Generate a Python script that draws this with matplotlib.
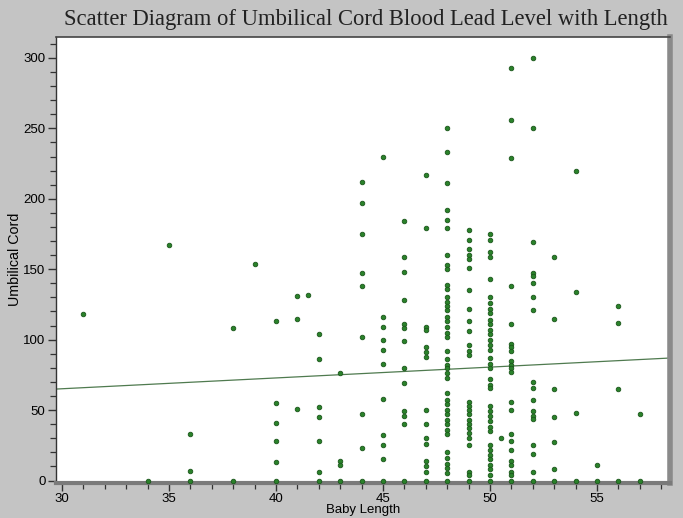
import matplotlib
matplotlib.use("Agg")
import matplotlib.pyplot as plt
from matplotlib.ticker import MultipleLocator

# baby length (cm) and cord blood lead values read for each length
lengths = [31, 34, 35, 36, 38, 39, 40, 41, 41.5, 42, 43, 44, 45, 46, 47, 48,
           49, 50, 50.5, 51, 52, 53, 54, 55, 56, 57]
lead_by_length = [
    [118],
    [0],
    [167],
    [33, 7, 0],
    [108, 0],
    [154],
    [113, 55, 41, 28, 13, 0],
    [131, 115, 51],
    [132],
    [104, 86, 52, 45, 28, 6, 0],
    [76, 14, 11, 0],
    [212, 197, 175, 147, 138, 102, 47, 23, 0],
    [230, 116, 109, 100, 93, 83, 58, 32, 25, 15, 0],
    [184, 159, 148, 128, 111, 108, 99, 80, 69, 49, 46, 40, 0],
    [217, 179, 109, 107, 95, 91, 88, 50, 40, 30, 26, 14, 10, 6, 0],
    [250, 233, 211, 192, 185, 179, 160, 153, 150, 139, 136, 130, 127, 124,
     121, 116, 113, 109, 105, 102, 92, 86, 82, 80, 76, 73, 62, 57, 54, 50,
     47, 43, 40, 36, 33, 20, 16, 12, 9, 5, 0],
    [178, 171, 164, 160, 157, 151, 135, 122, 113, 106, 96, 92, 89, 56, 53,
     50, 47, 43, 40, 37, 34, 30, 25, 6, 4, 0],
    [175, 171, 162, 159, 143, 130, 126, 122, 119, 114, 111, 107, 104, 100,
     96, 93, 87, 83, 80, 72, 68, 66, 53, 49, 46, 42, 38, 35, 25, 22, 18, 15,
     11, 8, 4, 0],
    [30],
    [293, 256, 229, 138, 111, 97, 95, 92, 85, 82, 80, 77, 56, 50, 33, 28, 22,
     14, 11, 6, 4, 0],
    [300, 250, 169, 147, 145, 140, 130, 121, 70, 66, 57, 49, 46, 44, 25, 19,
     6, 0],
    [159, 115, 65, 45, 27, 8, 0],
    [220, 134, 48, 0],
    [11, 0],
    [124, 112, 65, 0],
    [47, 0],
]

# fitted line as shown on the chart
fit_intercept = 42.1
fit_slope = 0.768

x_vals = []
y_vals = []
for length, leads in zip(lengths, lead_by_length):
    for v in leads:
        x_vals.append(length)
        y_vals.append(v)

fig = plt.figure(figsize=(6.83, 5.18), dpi=100, facecolor="#c4c4c4")
ax = fig.add_axes([0.082, 0.068, 0.899, 0.861])
ax.set_facecolor("white")

ax.plot(x_vals, y_vals, linestyle="none", marker="o", markersize=3.3,
        markerfacecolor="#2a822a", markeredgecolor="#1b561b",
        markeredgewidth=0.6, clip_on=False, zorder=3)

xlim = (29.72, 58.41)
ax.plot(xlim, [fit_intercept + fit_slope * xlim[0], fit_intercept + fit_slope * xlim[1]],
        color="#4f7a4f", linewidth=0.9, zorder=2)

ax.set_xlim(*xlim)
ax.set_ylim(-1.6, 315)

ax.xaxis.set_major_locator(MultipleLocator(5))
ax.xaxis.set_minor_locator(MultipleLocator(1))
ax.yaxis.set_major_locator(MultipleLocator(50))
ax.yaxis.set_minor_locator(MultipleLocator(10))
ax.tick_params(axis="both", which="major", length=6, width=1.0,
               color="#333333", labelsize=9.5, pad=1.5)
ax.tick_params(axis="both", which="minor", length=4.5, width=0.9,
               color="#333333")
for lab in ax.get_xticklabels() + ax.get_yticklabels():
    lab.set_fontfamily("Liberation Sans")

ax.spines["left"].set_color("#333333")
ax.spines["left"].set_linewidth(1.0)
ax.spines["top"].set_color("#444444")
ax.spines["top"].set_linewidth(1.2)
ax.spines["bottom"].set_color("#7a7a7a")
ax.spines["bottom"].set_linewidth(3.0)
ax.spines["right"].set_color("#8a8a8a")
ax.spines["right"].set_linewidth(4.0)

ax.set_ylabel("Umbilical Cord", fontsize=10.3, family="Liberation Sans",
              labelpad=1)
ax.set_xlabel("Baby Length", fontsize=9.5, family="Liberation Sans",
              labelpad=-0.5)

fig.text(0.535, 0.963, "Scatter Diagram of Umbilical Cord Blood Lead Level with Length",
         ha="center", va="center", fontsize=16.3, family="Liberation Serif",
         color="#222222")

fig.savefig("out.png", dpi=100, facecolor=fig.get_facecolor())
